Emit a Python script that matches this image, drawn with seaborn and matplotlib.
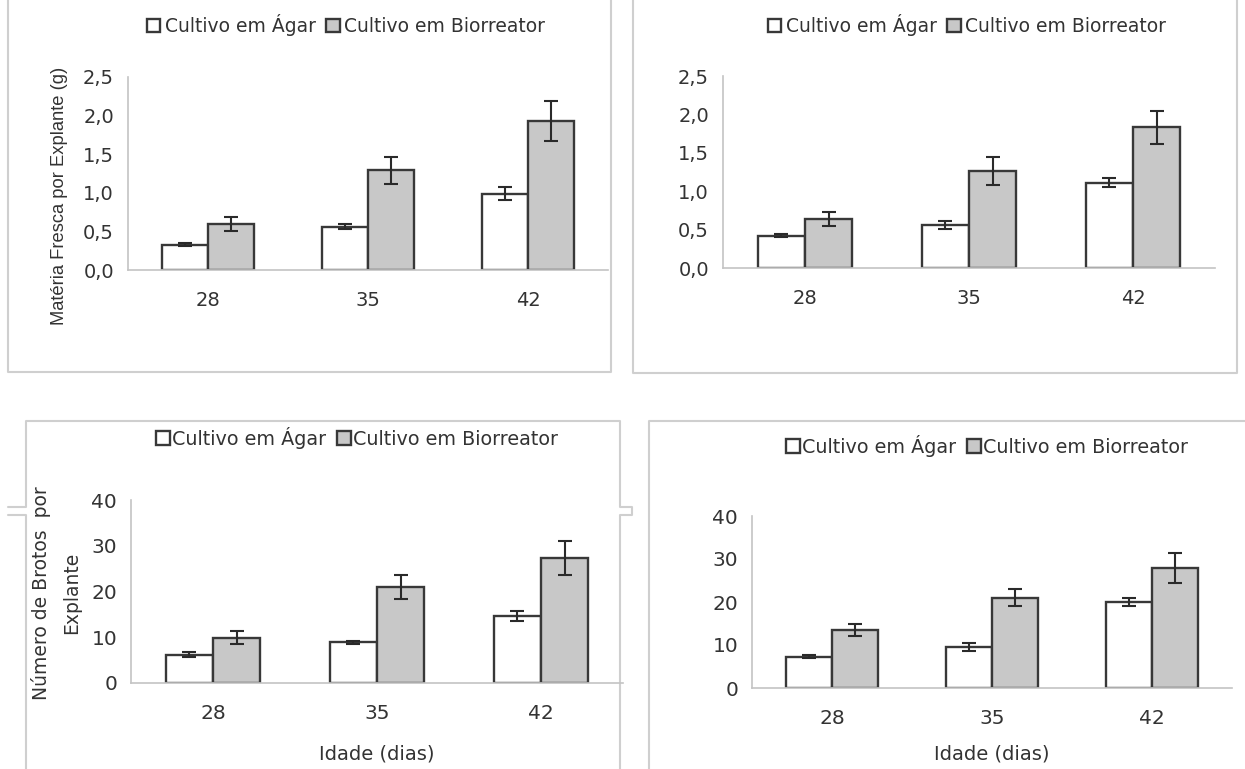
import numpy as np
import pandas as pd
import matplotlib
matplotlib.use("Agg")
import matplotlib.pyplot as plt
import seaborn as sns

# ---------------- data ----------------
days = ["28", "35", "42"]
series = ["Cultivo em Ágar", "Cultivo em Biorreator"]

p1_agar = [0.33, 0.56, 0.99]
p1_agar_err = [0.02, 0.03, 0.08]
p1_bio = [0.60, 1.29, 1.93]
p1_bio_err = [0.09, 0.17, 0.26]

p2_agar = [0.42, 0.56, 1.11]
p2_agar_err = [0.02, 0.05, 0.06]
p2_bio = [0.64, 1.26, 1.83]
p2_bio_err = [0.09, 0.18, 0.22]

p3_agar = [6.2, 8.9, 14.7]
p3_agar_err = [0.5, 0.3, 1.1]
p3_bio = [9.9, 21.0, 27.3]
p3_bio_err = [1.4, 2.6, 3.7]

p4_agar = [7.3, 9.6, 20.0]
p4_agar_err = [0.4, 0.9, 0.9]
p4_bio = [13.5, 21.0, 27.9]
p4_bio_err = [1.5, 2.0, 3.5]

yticks_mass = [0.0, 0.5, 1.0, 1.5, 2.0, 2.5]
yticklabels_mass = ["0,0", "0,5", "1,0", "1,5", "2,0", "2,5"]
yticks_count = [0, 10, 20, 30, 40]
yticklabels_count = ["0", "10", "20", "30", "40"]

ylabel_mass = "Matéria Fresca por Explante (g)"
ylabel_count = "Número de Brotos  por\nExplante"
xlabel_age = "Idade (dias)"

# ---------------- style ----------------
sns.set_style("white")
plt.rcParams["font.family"] = ["DejaVu Sans"]
TXT = "#333333"
SPINE = "#c4c4c4"
EDGE = "#383838"
GRAY = "#c8c8c8"
BORDER = "#cfcfcf"

W, H = 1245, 769
fig = plt.figure(figsize=(W / 100, H / 100), dpi=100)
fig.patch.set_facecolor("white")


def rect(x0, x1, ytop, ybot):
    return [x0 / W, 1 - ybot / H, (x1 - x0) / W, (ybot - ytop) / H]


# overlay for panel frames
bg = fig.add_axes([0, 0, 1, 1], zorder=-5)
bg.set_xlim(0, W)
bg.set_ylim(H, 0)
bg.axis("off")
kw = dict(color=BORDER, lw=1.5, solid_joinstyle="round")
bg.plot([8, 8, 611, 611], [-5, 372, 372, -5], **kw)
bg.plot([633, 633, 1237, 1237], [-5, 373, 373, -5], **kw)
bg.plot([8, 26, 26, 620, 620, 632, 632, 620, 620],
        [507, 507, 421, 421, 507, 507, 515, 515, 775], **kw)
bg.plot([8, 26, 26], [515, 515, 775], **kw)
bg.plot([649, 649, 1250], [775, 421, 421], **kw)


def panel(box, agar, agar_err, bio, bio_err, ylim, yt, ytl, leg_xy,
          tick_fs, leg_fs, leg_pad):
    ax = fig.add_axes(rect(*box))
    df = pd.DataFrame({
        "Idade": days * 2,
        "Cultivo": [series[0]] * 3 + [series[1]] * 3,
        "valor": list(agar) + list(bio),
    })
    sns.barplot(data=df, x="Idade", y="valor", hue="Cultivo",
                palette=["white", GRAY], edgecolor=EDGE, linewidth=1.7,
                width=0.575, gap=0, errorbar=None, legend=False, ax=ax,
                saturation=1)
    for cont, errs in zip(ax.containers, [agar_err, bio_err]):
        xs = [b.get_x() + b.get_width() / 2 for b in cont]
        ys = [b.get_height() for b in cont]
        ax.errorbar(xs, ys, yerr=errs, fmt="none", ecolor="#2a2a2a",
                    elinewidth=1.5, capsize=5, capthick=1.5, zorder=5)
    ax.set_xlim(-0.5, 2.5)
    ax.set_ylim(*ylim)
    ax.set_yticks(yt, ytl)
    ax.set_xlabel("")
    ax.set_ylabel("")
    for s in ["top", "right"]:
        ax.spines[s].set_visible(False)
    for s in ["left", "bottom"]:
        ax.spines[s].set_color(SPINE)
        ax.spines[s].set_linewidth(1.2)
    ax.set_xticks([-0.5, 0.5, 1.5, 2.5], minor=True)
    ax.tick_params(axis="x", which="major", length=0, pad=15,
                   labelsize=tick_fs, labelcolor=TXT)
    ax.tick_params(axis="x", which="minor", length=4, width=1.2,
                   color=SPINE, direction="out")
    ax.tick_params(axis="y", length=4, width=1.2, color=SPINE,
                   direction="out", pad=6, labelsize=tick_fs, labelcolor=TXT)
    ax.set_facecolor("none")
    ax.legend(ax.containers, series, loc="center",
              bbox_to_anchor=(leg_xy[0] / W, 1 - leg_xy[1] / H),
              bbox_transform=fig.transFigure, ncol=2, frameon=False,
              fontsize=leg_fs, labelcolor=TXT, handlelength=0.72,
              handleheight=0.72, handletextpad=leg_pad, columnspacing=0.55,
              borderaxespad=0, borderpad=0)
    return ax


panel((128, 608, 77, 270), p1_agar, p1_agar_err, p1_bio, p1_bio_err,
      (0, 2.5), yticks_mass, yticklabels_mass, (346, 25), 14, 13.5, 0.25)
panel((723, 1215, 76, 268), p2_agar, p2_agar_err, p2_bio, p2_bio_err,
      (0, 2.5), yticks_mass, yticklabels_mass, (967, 25), 14, 13.5, 0.25)
panel((131, 623, 500, 683), p3_agar, p3_agar_err, p3_bio, p3_bio_err,
      (0, 40), yticks_count, yticklabels_count, (357, 438), 14.5, 13.8, 0.1)
panel((752, 1232, 516, 688), p4_agar, p4_agar_err, p4_bio, p4_bio_err,
      (0, 40), yticks_count, yticklabels_count, (987, 446), 14.5, 13.8, 0.1)

fig.text(60 / W, 1 - 196 / H, ylabel_mass, rotation=90, ha="center",
         va="center", fontsize=13.2, color=TXT,
         family=["Liberation Sans", "DejaVu Sans"])
fig.text(56 / W, 1 - 593 / H, ylabel_count, rotation=90, ha="center",
         va="center", fontsize=13.5, color=TXT, multialignment="center",
         linespacing=1.75)
fig.text(377 / W, 1 - 754 / H, xlabel_age, ha="center", va="center",
         fontsize=14, color=TXT)
fig.text(992 / W, 1 - 754 / H, xlabel_age, ha="center", va="center",
         fontsize=14, color=TXT)

fig.savefig("out.png", dpi=100, facecolor="white")
